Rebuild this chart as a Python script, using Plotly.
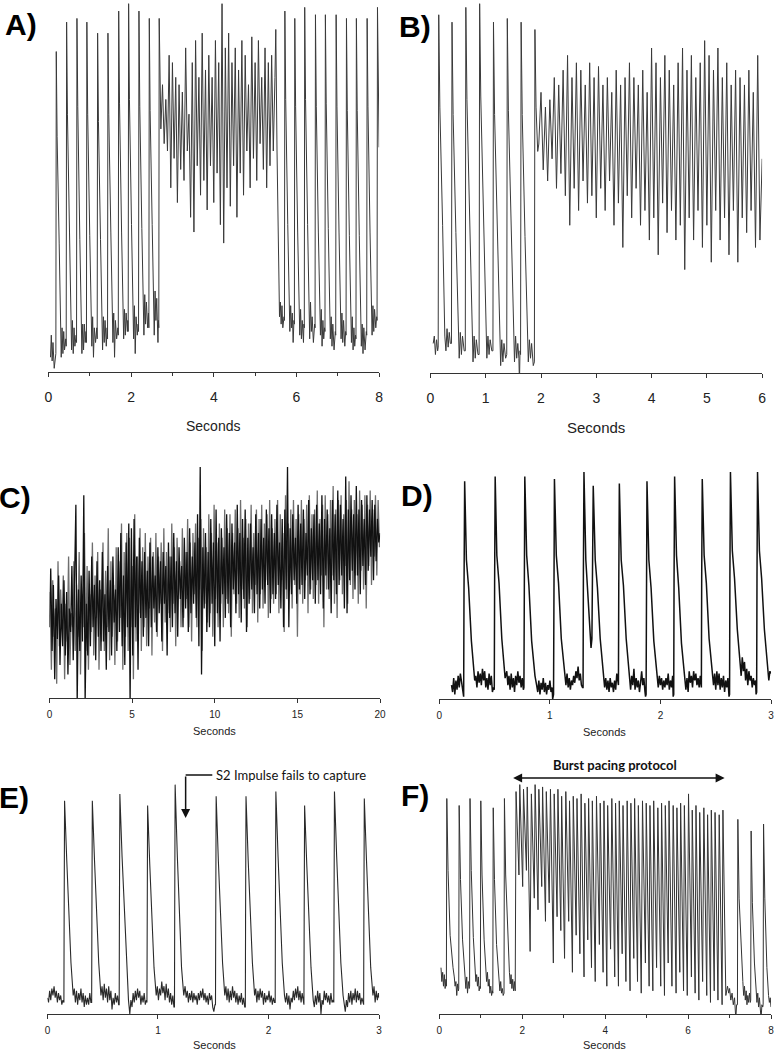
import plotly.graph_objects as go

# === Panel A: paced beats -> fibrillation -> paced beats (0-8 s) ===
a_pre = [
    (0.05, 4), (0.07, 10), (0.09, 3), (0.11, 8), (0.14, 1), (0.17, 4),
    (0.18, 5), (0.19, 87), (0.21, 64), (0.26, 35), (0.29, 9), (0.31, 4), (0.33, 12), (0.35, 5), (0.37, 11), (0.39, 6), (0.42, 9),
    (0.43, 7), (0.44, 95), (0.46, 70), (0.51, 38), (0.54, 13), (0.56, 6), (0.58, 14), (0.60, 5), (0.62, 12), (0.64, 7), (0.67, 10),
    (0.68, 8), (0.69, 96), (0.71, 72), (0.76, 36), (0.79, 12), (0.81, 5), (0.83, 13), (0.85, 6), (0.87, 13), (0.89, 8), (0.91, 11),
    (0.92, 8), (0.93, 95), (0.95, 70), (1.00, 37), (1.03, 14), (1.05, 7), (1.07, 15), (1.09, 4), (1.11, 12), (1.14, 8), (1.17, 12),
    (1.18, 9), (1.19, 92), (1.21, 68), (1.26, 36), (1.29, 13), (1.31, 6), (1.33, 15), (1.35, 8), (1.37, 14), (1.40, 7), (1.42, 12),
    (1.43, 9), (1.44, 92), (1.46, 70), (1.51, 38), (1.54, 15), (1.56, 8), (1.58, 16), (1.60, 4), (1.62, 14), (1.65, 9), (1.68, 12),
    (1.69, 10), (1.70, 98), (1.72, 73), (1.77, 38), (1.80, 16), (1.82, 9), (1.84, 17), (1.86, 10), (1.88, 16), (1.91, 11), (1.92, 14),
    (1.93, 11), (1.94, 100), (1.96, 74), (2.01, 40), (2.04, 16), (2.06, 9), (2.08, 18), (2.10, 5), (2.12, 15), (2.15, 10), (2.17, 13),
    (2.18, 11), (2.19, 98), (2.21, 72), (2.26, 39), (2.29, 17), (2.31, 10), (2.33, 21), (2.35, 13), (2.37, 19), (2.40, 12), (2.42, 16),
    (2.43, 12), (2.44, 96), (2.46, 71), (2.51, 40), (2.54, 18), (2.56, 10), (2.58, 22), (2.60, 14), (2.62, 20), (2.65, 8), (2.66, 14),
    (2.67, 12), (2.68, 96), (2.70, 72),
]
a_fib_start = 2.72
a_fib_step = 0.04
a_fib = [66, 78, 62, 74, 60, 86, 50, 84, 58, 80, 46, 78, 55, 76, 52, 88, 60, 70, 42, 84,
         38, 90, 56, 80, 48, 92, 52, 82, 44, 86, 56, 80, 46, 90, 54, 84, 40, 100, 35, 88,
         50, 92, 45, 84, 56, 88, 42, 82, 54, 90, 48, 86, 60, 78, 50, 91, 58, 84, 52, 90,
         62, 80, 55, 88, 50, 84, 56, 86, 60, 80]
a_post = [
    (5.50, 93), (5.53, 60), (5.57, 20), (5.59, 15), (5.61, 19), (5.63, 13), (5.65, 18), (5.67, 12), (5.70, 15),
    (5.71, 14), (5.72, 98), (5.74, 74), (5.79, 40), (5.82, 17), (5.84, 11), (5.86, 18), (5.88, 12), (5.90, 16), (5.92, 8), (5.94, 14),
    (5.95, 13), (5.96, 96), (5.98, 72), (6.03, 38), (6.06, 16), (6.08, 10), (6.10, 17), (6.12, 9), (6.14, 14), (6.17, 8), (6.18, 13),
    (6.19, 12), (6.20, 99), (6.22, 74), (6.27, 40), (6.30, 16), (6.32, 9), (6.34, 19), (6.36, 11), (6.38, 15), (6.41, 8), (6.44, 13),
    (6.45, 12), (6.46, 97), (6.48, 72), (6.53, 38), (6.56, 15), (6.58, 10), (6.60, 17), (6.62, 7), (6.64, 14), (6.66, 9), (6.68, 12),
    (6.69, 11), (6.70, 97), (6.72, 73), (6.77, 39), (6.80, 16), (6.82, 9), (6.84, 15), (6.86, 7), (6.88, 13), (6.91, 6), (6.94, 11),
    (6.95, 10), (6.96, 97), (6.98, 72), (7.03, 38), (7.06, 15), (7.08, 9), (7.10, 16), (7.12, 8), (7.14, 14), (7.17, 7), (7.19, 11),
    (7.20, 10), (7.21, 96), (7.23, 71), (7.28, 37), (7.31, 14), (7.33, 8), (7.35, 15), (7.37, 6), (7.39, 12), (7.41, 7), (7.43, 10),
    (7.44, 9), (7.45, 96), (7.47, 71), (7.52, 37), (7.55, 14), (7.57, 7), (7.59, 13), (7.61, 5), (7.63, 12), (7.66, 6), (7.69, 11),
    (7.70, 10), (7.71, 96), (7.73, 72), (7.78, 38), (7.81, 16), (7.83, 10), (7.85, 18), (7.87, 11), (7.89, 17), (7.92, 12), (7.94, 15),
    (7.95, 14), (7.96, 99), (7.98, 75), (8.00, 61),
]

# === Panel B: paced beats -> sustained fibrillation (0-6 s) ===
b_pre = [
    (0.05, 8), (0.07, 10), (0.09, 5), (0.11, 9), (0.13, 6),
    (0.14, 7), (0.15, 97), (0.17, 72), (0.22, 40), (0.26, 10), (0.28, 6), (0.30, 12), (0.32, 7), (0.34, 11), (0.36, 8),
    (0.38, 8), (0.39, 95), (0.41, 70), (0.46, 38), (0.50, 9), (0.52, 4), (0.54, 11), (0.56, 5), (0.58, 10), (0.61, 6),
    (0.63, 6), (0.64, 99), (0.66, 74), (0.71, 40), (0.75, 8), (0.77, 3), (0.79, 10), (0.81, 4), (0.83, 9), (0.86, 5),
    (0.88, 5), (0.89, 100), (0.91, 75), (0.96, 40), (1.00, 9), (1.02, 4), (1.04, 10), (1.06, 5), (1.08, 9), (1.11, 6),
    (1.13, 6), (1.14, 95), (1.16, 70), (1.21, 38), (1.25, 8), (1.27, 2), (1.29, 9), (1.31, 3), (1.33, 8), (1.36, 4),
    (1.38, 5), (1.39, 96), (1.41, 71), (1.46, 38), (1.50, 9), (1.52, 3), (1.54, 10), (1.56, 4), (1.58, 8), (1.60, 4), (1.61, -3), (1.62, 6),
    (1.63, 5), (1.64, 95), (1.66, 70), (1.71, 37), (1.75, 8), (1.77, 3), (1.79, 9), (1.81, 4), (1.83, 8), (1.86, 2),
    (1.88, 3), (1.89, 93), (1.91, 72), (1.94, 60),
]
b_fib_start = 1.96
b_fib_step = 0.04
b_fib = [62, 76, 55, 72, 52, 74, 58, 80, 50, 78, 54, 82, 48, 86, 40, 80, 50, 84, 44, 82,
         52, 78, 46, 84, 48, 80, 42, 83, 50, 78, 44, 80, 52, 76, 40, 82, 46, 78, 34, 80,
         48, 84, 42, 80, 50, 78, 40, 82, 44, 76, 36, 88, 42, 84, 32, 80, 46, 86, 38, 82,
         44, 78, 36, 84, 40, 88, 28, 82, 42, 86, 36, 80, 44, 84, 34, 90, 40, 86, 30, 82,
         44, 88, 36, 80, 42, 84, 32, 78, 44, 82, 30, 80, 42, 78, 38, 82, 44, 76, 34, 86,
         36, 58]

# === Panel C: fibrillation over 20 s (two overlapping recordings: dark and grey) ===
c_step = 0.08
c_vals = [30, 55, 20, 48, 8, 42, 25, 52, 14, 40,
          22, 50, 18, 45, 10, 38, 28, 56, 16, 44,
          82, -2, 46, 20, 52, 24, 86, -2, 40, 18,
          54, 22, 60, 30, 48, 16, 58, 26, 50, 20,
          62, 24, 44, 12, 56, 28, 50, 18, 60, 32,
          46, 20, 64, 28, 70, 22, 52, 14, 66, 30,
          74, -2, 72, 18, 76, 30, 60, 12, 68, 34,
          58, 26, 62, 34, 54, 22, 66, 30, 60, 38,
          52, 28, 64, 36, 58, 24, 62, 40, 56, 18,
          66, 34, 60, 30, 70, 36, 58, 26, 64, 42,
          56, 30, 68, 38, 62, 28, 72, 36, 60, 40,
          66, 34, 78, 22, 98, 10, 64, 38, 70, 28,
          62, 30, 76, 40, 66, 22, 80, 36, 68, 24,
          72, 44, 64, 34, 78, 40, 70, 30, 74, 46,
          66, 36, 82, 44, 70, 32, 76, 42, 80, 28,
          68, 40, 74, 46, 64, 36, 78, 44, 70, 38,
          76, 46, 68, 40, 80, 48, 72, 36, 78, 44,
          70, 42, 82, 48, 66, 38, 76, 30, 80, 46,
          98, 30, 72, 44, 78, 50, 68, 40, 82, 46,
          74, 48, 80, 42, 70, 52, 84, 44, 72, 50,
          78, 40, 82, 50, 74, 44, 86, 38, 76, 52,
          80, 46, 72, 36, 84, 50, 78, 44, 88, 48,
          82, 52, 76, 38, 94, 36, 80, 50, 86, 54,
          78, 46, 90, 52, 80, 44, 84, 56, 76, 48,
          86, 54, 80, 60, 84, 50, 82, 58, 76, 66, 70]
c_grey_start = 0.04
c_grey = [45, 12, 50, 26, 38, 6, 58, 22, 46, 30,
          52, 8, 40, 24, 60, 14, 36, 30, 58, 20,
          48, 26, 62, 10, 44, 30, 70, 20, 56, 12,
          44, 28, 66, 18, 52, 34, 62, 12, 46, 24,
          66, 20, 54, 30, 72, 16, 58, 26, 48, 14,
          64, 24, 58, 34, 74, 12, 62, 26, 70, 20,
          68, 30, 56, 8, 78, 24, 60, 36, 72, 20,
          64, 30, 70, 22, 60, 38, 68, 18, 62, 32,
          70, 26, 60, 40, 66, 20, 72, 32, 62, 36,
          60, 28, 74, 40, 64, 22, 68, 44, 58, 30,
          72, 34, 62, 42, 76, 30, 66, 24, 70, 44,
          74, 30, 68, 46, 76, 20, 72, 40, 64, 32,
          78, 36, 70, 26, 82, 42, 66, 30, 74, 40,
          68, 30, 80, 42, 72, 36, 78, 26, 70, 44,
          80, 40, 72, 34, 84, 46, 68, 38, 76, 30,
          74, 42, 82, 36, 70, 48, 80, 32, 76, 44,
          82, 38, 74, 50, 78, 34, 84, 42, 72, 40,
          76, 44, 84, 36, 78, 50, 70, 28, 86, 42,
          74, 46, 80, 38, 84, 48, 76, 26, 78, 44,
          84, 40, 76, 50, 82, 36, 86, 46, 78, 42,
          80, 48, 88, 40, 76, 52, 82, 30, 86, 46,
          78, 42, 84, 52, 90, 40, 80, 34, 84, 50,
          86, 44, 78, 56, 84, 40, 92, 48, 80, 42,
          84, 52, 78, 40, 88, 54, 82, 46, 86, 38,
          82, 56, 88, 48, 80, 60, 86, 52, 84, 64]

# === Panel D: paced beats with an early extra beat (0-3 s) ===
d_pts = [
    (0.11, 6), (0.12, 3), (0.13, 9), (0.14, 2), (0.15, 8), (0.16, 4), (0.17, 10), (0.18, 5), (0.19, 11), (0.20, 7), (0.21, 3),
    (0.22, 1), (0.223, 45), (0.229, 94), (0.245, 60), (0.265, 48), (0.29, 25), (0.32, 8), (0.33, 10), (0.34, 5), (0.35, 12), (0.36, 7),
    (0.37, 11), (0.38, 6), (0.39, 13), (0.40, 8), (0.41, 12), (0.42, 5), (0.43, 9), (0.44, 4), (0.45, 11), (0.46, 6), (0.47, 10), (0.48, 3), (0.49, 5),
    (0.497, 4), (0.50, 50), (0.505, 96), (0.52, 62), (0.54, 50), (0.565, 26), (0.595, 9), (0.61, 12), (0.62, 6), (0.63, 10), (0.64, 4),
    (0.65, 11), (0.66, 5), (0.67, 9), (0.68, 3), (0.69, 10), (0.70, 6), (0.71, 12), (0.72, 7), (0.73, 10), (0.74, 5), (0.75, 9), (0.76, 4),
    (0.765, 5), (0.768, 50), (0.773, 96), (0.79, 62), (0.81, 49), (0.835, 25), (0.865, 10), (0.88, 6), (0.89, 3), (0.90, 8), (0.91, 2),
    (0.92, 7), (0.93, 4), (0.94, 9), (0.95, 3), (0.96, 7), (0.97, 2), (0.98, 6), (0.99, 4), (1.00, 8), (1.01, 3), (1.02, 5), (1.025, 0),
    (1.033, 2), (1.036, 50), (1.041, 95), (1.058, 62), (1.078, 50), (1.103, 26), (1.133, 10), (1.145, 6), (1.155, 11), (1.165, 5),
    (1.175, 9), (1.185, 4), (1.195, 8), (1.205, 6), (1.215, 10), (1.225, 7), (1.235, 12), (1.245, 9), (1.255, 14), (1.265, 8), (1.275, 11), (1.285, 6), (1.295, 5),
    (1.30, 5), (1.303, 55), (1.308, 98), (1.325, 60), (1.345, 42), (1.36, 30), (1.372, 22),
    (1.38, 26), (1.385, 60), (1.392, 92), (1.41, 60), (1.43, 48), (1.455, 26), (1.485, 10), (1.495, 5), (1.505, 9), (1.515, 4),
    (1.525, 8), (1.535, 3), (1.545, 9), (1.555, 5), (1.565, 7), (1.575, 3), (1.585, 8), (1.595, 4), (1.605, 11), (1.612, 8),
    (1.62, 6), (1.623, 50), (1.628, 93), (1.645, 60), (1.665, 49), (1.69, 26), (1.72, 10), (1.73, 4), (1.74, 10), (1.75, 6), (1.76, 13),
    (1.77, 4), (1.78, 9), (1.79, 5), (1.80, 8), (1.81, 3), (1.82, 7), (1.83, 12), (1.84, 6), (1.85, 9), (1.86, 3), (1.865, 1),
    (1.87, 2), (1.873, 50), (1.878, 94), (1.895, 60), (1.915, 48), (1.94, 25), (1.97, 9), (1.98, 5), (1.99, 10), (2.00, 6), (2.01, 9),
    (2.02, 4), (2.03, 8), (2.04, 5), (2.05, 9), (2.06, 6), (2.07, 11), (2.08, 4), (2.09, 8), (2.10, 5), (2.11, 10), (2.115, 1),
    (2.12, 2), (2.123, 52), (2.128, 96), (2.145, 62), (2.165, 48), (2.19, 24), (2.22, 10), (2.23, 4), (2.24, 9), (2.25, 3), (2.26, 12),
    (2.27, 7), (2.28, 10), (2.29, 5), (2.30, 12), (2.31, 8), (2.32, 11), (2.33, 6), (2.34, 9), (2.35, 5), (2.36, 10), (2.365, 7),
    (2.37, 5), (2.373, 52), (2.378, 95), (2.395, 62), (2.415, 50), (2.44, 26), (2.47, 12), (2.48, 6), (2.49, 11), (2.50, 4), (2.51, 12),
    (2.52, 6), (2.53, 11), (2.54, 4), (2.55, 9), (2.56, 5), (2.57, 10), (2.58, 3), (2.59, 8), (2.60, 5), (2.61, 9), (2.62, 1),
    (2.625, 2), (2.628, 52), (2.633, 98), (2.65, 64), (2.67, 52), (2.695, 30), (2.72, 16), (2.73, 10), (2.74, 18), (2.75, 12), (2.76, 16),
    (2.77, 8), (2.78, 13), (2.79, 6), (2.80, 12), (2.81, 8), (2.82, 10), (2.83, 5), (2.84, 9), (2.85, 6), (2.86, 8), (2.865, 2),
    (2.87, 3), (2.873, 52), (2.878, 98), (2.895, 64), (2.915, 52), (2.94, 30), (2.97, 13), (2.98, 8), (2.99, 12), (3.00, 11),
]

# === Panel E: S1 beats, S2 impulse fails to capture (0-3 s) ===
e_pts = [
    (0.00, 7), (0.01, 5), (0.02, 10), (0.03, 6), (0.04, 11), (0.05, 8), (0.06, 12), (0.07, 7), (0.08, 10), (0.09, 5), (0.10, 9),
    (0.11, 6), (0.12, 8), (0.13, 4), (0.14, 6),
    (0.149, 5), (0.151, 40), (0.155, 92), (0.175, 66), (0.195, 44), (0.213, 22), (0.233, 8), (0.243, 11), (0.253, 5), (0.263, 10),
    (0.273, 4), (0.283, 9), (0.293, 6), (0.303, 11), (0.313, 5), (0.323, 9), (0.333, 3), (0.343, 8), (0.353, 4), (0.363, 7), (0.373, 4), (0.383, 9), (0.393, 5),
    (0.40, 5), (0.402, 40), (0.406, 92), (0.426, 66), (0.446, 44), (0.464, 22), (0.484, 8), (0.494, 12), (0.504, 6), (0.514, 13),
    (0.524, 7), (0.534, 11), (0.544, 5), (0.554, 12), (0.564, 6), (0.574, 10), (0.584, 2), (0.594, 7), (0.604, 4), (0.614, 9), (0.624, 5), (0.634, 8), (0.644, 4),
    (0.649, 4), (0.651, 42), (0.655, 95), (0.675, 68), (0.695, 46), (0.713, 22), (0.733, 6), (0.745, 0), (0.755, 6), (0.765, 3),
    (0.775, 9), (0.785, 5), (0.795, 10), (0.805, 6), (0.815, 11), (0.825, 7), (0.835, 10), (0.845, 4), (0.855, 8), (0.865, 5), (0.875, 9), (0.885, 4), (0.895, 6),
    (0.90, 5), (0.902, 40), (0.906, 90), (0.926, 64), (0.946, 43), (0.964, 20), (0.984, 8), (0.994, 12), (1.004, 6), (1.014, 11),
    (1.024, 8), (1.034, 14), (1.044, 9), (1.054, 12), (1.064, 6), (1.074, 13), (1.084, 7), (1.094, 11), (1.104, 5), (1.114, 9), (1.124, 4), (1.134, 8), (1.144, 3),
    (1.149, 3), (1.151, 42), (1.155, 99), (1.175, 68), (1.195, 44), (1.213, 20), (1.233, 8), (1.245, 12), (1.255, 7), (1.265, 10),
    (1.275, 5), (1.285, 9), (1.295, 6), (1.305, 10), (1.315, 5), (1.325, 9), (1.335, 6), (1.345, 8), (1.355, 4), (1.365, 9), (1.375, 6),
    (1.385, 10), (1.395, 7), (1.405, 11), (1.415, 6), (1.425, 9), (1.435, 5), (1.445, 8), (1.455, 4), (1.465, 9), (1.475, 6), (1.485, 8),
    (1.495, 3), (1.505, 1), (1.515, 4),
    (1.52, 4), (1.522, 40), (1.526, 94), (1.546, 66), (1.566, 44), (1.584, 22), (1.604, 8), (1.614, 12), (1.624, 6), (1.634, 11),
    (1.644, 5), (1.654, 10), (1.664, 6), (1.674, 12), (1.684, 7), (1.694, 10), (1.704, 5), (1.714, 9), (1.724, 4), (1.734, 8), (1.744, 5), (1.754, 9), (1.764, 4), (1.774, 7), (1.784, 3),
    (1.79, 3), (1.792, 40), (1.796, 94), (1.816, 66), (1.836, 44), (1.854, 22), (1.874, 8), (1.884, 11), (1.894, 5), (1.904, 10),
    (1.914, 6), (1.924, 11), (1.934, 7), (1.944, 10), (1.954, 4), (1.964, 9), (1.974, 5), (1.984, 8), (1.994, 6), (2.004, 10), (2.014, 5), (2.024, 8), (2.034, 4), (2.044, 7), (2.054, 5),
    (2.06, 5), (2.062, 42), (2.066, 96), (2.086, 68), (2.106, 45), (2.124, 22), (2.144, 8), (2.154, 5), (2.164, 9), (2.174, 4),
    (2.184, 8), (2.194, 2), (2.204, 7), (2.214, 5), (2.224, 10), (2.234, 6), (2.244, 11), (2.254, 7), (2.264, 12), (2.274, 6), (2.284, 10), (2.294, 5), (2.304, 9), (2.314, 4),
    (2.32, 4), (2.322, 40), (2.326, 90), (2.346, 64), (2.366, 42), (2.384, 20), (2.404, 6), (2.414, 3), (2.424, 8), (2.434, 4),
    (2.444, 10), (2.454, 5), (2.464, 9), (2.474, 0), (2.484, 6), (2.494, 4), (2.504, 10), (2.514, 6), (2.524, 9), (2.534, 5), (2.544, 8), (2.554, 4), (2.564, 9), (2.574, 5), (2.584, 6),
    (2.59, 5), (2.592, 42), (2.596, 96), (2.616, 68), (2.636, 45), (2.654, 22), (2.674, 8), (2.684, 4), (2.694, 1), (2.704, 6),
    (2.714, 3), (2.724, 9), (2.734, 5), (2.744, 10), (2.754, 4), (2.764, 9), (2.774, 6), (2.784, 11), (2.794, 5), (2.804, 10), (2.814, 6), (2.824, 9), (2.834, 4), (2.844, 7), (2.854, 4),
    (2.86, 4), (2.862, 40), (2.866, 93), (2.886, 66), (2.906, 44), (2.924, 20), (2.944, 8), (2.954, 12), (2.964, 5), (2.974, 10),
    (2.984, 6), (2.994, 9), (3.00, 7),
]

# === Panel F: paced beats, burst pacing, paced beats (0-8 s) ===
f_pre = [
    (0.04, 20), (0.06, 14), (0.08, 18), (0.10, 12), (0.12, 17), (0.14, 11), (0.16, 15),
    (0.17, 12), (0.18, 93), (0.21, 62), (0.26, 34), (0.30, 24), (0.33, 20), (0.36, 16), (0.38, 12), (0.40, 14), (0.42, 8), (0.44, 13), (0.46, 10),
    (0.468, 11), (0.478, 90), (0.51, 58), (0.56, 32), (0.60, 20), (0.62, 15), (0.64, 11), (0.66, 16), (0.68, 9), (0.70, 14), (0.72, 11),
    (0.73, 12), (0.74, 93), (0.77, 62), (0.82, 33), (0.86, 20), (0.88, 14), (0.90, 17), (0.92, 12), (0.94, 16), (0.96, 10), (0.98, 12),
    (0.99, 11), (1.00, 92), (1.03, 60), (1.08, 32), (1.12, 20), (1.14, 14), (1.16, 18), (1.18, 12), (1.20, 15), (1.22, 9), (1.24, 12), (1.26, 8), (1.28, 10),
    (1.29, 9), (1.30, 89), (1.33, 58), (1.38, 30), (1.42, 18), (1.44, 13), (1.46, 10), (1.48, 14), (1.50, 9), (1.52, 11), (1.54, 8),
    (1.56, 9), (1.57, 93), (1.60, 60), (1.65, 32), (1.69, 18), (1.71, 13), (1.73, 17), (1.75, 11), (1.77, 15), (1.79, 10), (1.81, 14), (1.83, 10),
]
f_burst_peak_t = [1.85, 1.94, 2.03, 2.12, 2.22, 2.31, 2.40, 2.49, 2.58, 2.68, 2.77, 2.86, 2.95, 3.05, 3.14, 3.23, 3.32, 3.42, 3.51,
                  3.60, 3.69, 3.79, 3.88, 3.97, 4.06, 4.16, 4.25, 4.34, 4.43, 4.53, 4.62, 4.71, 4.80, 4.90, 4.99, 5.08, 5.17,
                  5.27, 5.36, 5.45, 5.54, 5.64, 5.73, 5.82, 5.91, 6.01, 6.10, 6.19, 6.28, 6.38, 6.47, 6.56, 6.65, 6.75, 6.84]
f_burst_peak = [96, 99, 97, 98, 95, 99, 97, 98, 96, 97, 95, 97, 94, 96, 92, 94, 93, 95, 91, 93, 92, 94, 91, 92, 90, 93, 91, 92,
                90, 92, 91, 93, 90, 92, 91, 90, 92, 89, 91, 90, 92, 90, 89, 91, 90, 95, 88, 90, 87, 89, 86, 88, 87, 86, 88]
f_burst_trough_t = [1.92, 2.01, 2.10, 2.19, 2.29, 2.38, 2.47, 2.56, 2.65, 2.75, 2.84, 2.93, 3.02, 3.12, 3.21, 3.30, 3.39, 3.49,
                    3.58, 3.67, 3.76, 3.86, 3.95, 4.04, 4.13, 4.23, 4.32, 4.41, 4.50, 4.60, 4.69, 4.78, 4.87, 4.97, 5.06, 5.15,
                    5.24, 5.34, 5.43, 5.52, 5.61, 5.71, 5.80, 5.89, 5.98, 6.08, 6.17, 6.26, 6.35, 6.45, 6.54, 6.63, 6.72, 6.82, 6.91]
f_burst_trough = [60, 55, 62, 27, 50, 45, 55, 40, 48, 22, 42, 36, 24, 40, 18, 34, 26, 16, 32, 20, 14, 30, 18, 12, 28, 16, 12,
                  26, 14, 10, 24, 14, 9, 22, 12, 10, 20, 12, 8, 22, 12, 9, 18, 10, 8, 16, 9, 6, 14, 8, 5, 10, 6, 4, 8]
f_post = [
    (6.95, 12), (6.98, 9), (7.00, 11), (7.03, 6), (7.06, 9), (7.09, 4), (7.12, 7), (7.15, -2), (7.17, 4),
    (7.19, 4), (7.20, 84), (7.23, 50), (7.28, 25), (7.32, 14), (7.34, 8), (7.36, 12), (7.38, 6), (7.40, 10), (7.42, 4), (7.44, 8), (7.46, 5), (7.48, 9), (7.50, 5),
    (7.51, 6), (7.52, 79), (7.55, 48), (7.60, 22), (7.64, 10), (7.66, 5), (7.68, 9), (7.70, 3), (7.72, 7), (7.74, 2), (7.76, -2), (7.78, 4), (7.80, 3),
    (7.81, 4), (7.82, 82), (7.85, 50), (7.90, 20), (7.94, 8), (7.96, 5), (7.98, 7), (8.00, 3),
]


def unzip(points):
    return [p[0] for p in points], [p[1] for p in points]


def clocked(start, step, values):
    return [round(start + i * step, 4) for i in range(len(values))], list(values)


# assemble each panel's trace
t1, v1 = unzip(a_pre)
t2, v2 = clocked(a_fib_start, a_fib_step, a_fib)
t3, v3 = unzip(a_post)
a_t, a_v = t1 + t2 + t3, v1 + v2 + v3

t1, v1 = unzip(b_pre)
t2, v2 = clocked(b_fib_start, b_fib_step, b_fib)
b_t, b_v = t1 + t2, v1 + v2

c_t, c_v = clocked(0.0, c_step, c_vals)
cg_t, cg_v = clocked(c_grey_start, c_step, c_grey)
d_t, d_v = unzip(d_pts)
e_t, e_v = unzip(e_pts)

t1, v1 = unzip(f_pre)
bt, bv = [], []
for pt, pv, tt, tv in zip(f_burst_peak_t, f_burst_peak, f_burst_trough_t, f_burst_trough):
    bt += [pt, tt]
    bv += [pv, tv]
t3, v3 = unzip(f_post)
f_t, f_v = t1 + bt + t3, v1 + bv + v3

W, H = 779, 1050


def px(x):
    return x / W


def py(y):
    return 1 - y / H


# panel geometry in screen pixels: time axis ends, (axis line y, top y)
panels = {
    'A': dict(x=(45, 380), y=(372, 0), rng=8, dtick=2, minor=1),
    'B': dict(x=(432, 768), y=(373, 0), rng=6, dtick=1, minor=None),
    'C': dict(x=(46, 381), y=(698, 460), rng=20, dtick=5, minor=None),
    'D': dict(x=(441, 777), y=(699, 465), rng=3, dtick=1, minor=None),
    'E': dict(x=(44, 380), y=(1014, 780), rng=3, dtick=1, minor=None),
    'F': dict(x=(441, 777), y=(1014, 780), rng=8, dtick=2, minor=1),
}
# each panel: list of (t, v, colour, width)
series = {
    'A': [(a_t, a_v, '#3a3a3a', 1.0)],
    'B': [(b_t, b_v, '#3a3a3a', 1.0)],
    'C': [(cg_t, cg_v, '#6e6e6e', 1.3), (c_t, c_v, '#111111', 1.3)],
    'D': [(d_t, d_v, '#111111', 1.5)],
    'E': [(e_t, e_v, '#2a2a2a', 1.1)],
    'F': [(f_t, f_v, '#333333', 1.0)],
}

fig = go.Figure()
layout = {}
for i, key in enumerate(['A', 'B', 'C', 'D', 'E', 'F'], start=1):
    p = panels[key]
    sfx = '' if i == 1 else str(i)
    for t, v, col, lw in series[key]:
        fig.add_trace(go.Scatter(x=t, y=v, mode='lines', line=dict(color=col, width=lw),
                                 xaxis='x' + sfx, yaxis='y' + sfx, showlegend=False, hoverinfo='skip'))
    big = key in ('A', 'B')
    xa = dict(domain=[px(p['x'][0]), px(p['x'][1])], range=[0, p['rng']], anchor='y' + sfx,
              showline=True, linecolor='#333', linewidth=1.2, showgrid=False, zeroline=False,
              ticks='outside', ticklen=4, tickcolor='#333', tick0=0, dtick=p['dtick'],
              ticklabelstandoff=8 if big else 3,
              tickfont=dict(family='Liberation Sans Narrow, Liberation Sans, Arial', size=14 if big else 10, color='#222'))
    if p['minor']:
        xa['minor'] = dict(dtick=p['minor'], ticks='outside', ticklen=3, tickcolor='#333')
    ya = dict(domain=[py(p['y'][0]), py(p['y'][1])], range=[0, 101], anchor='x' + sfx,
              visible=False, showgrid=False, zeroline=False)
    layout['xaxis' + sfx] = xa
    layout['yaxis' + sfx] = ya

fig.update_layout(**layout)

annotations = []
# panel letters
letters = [('A)', -1, 24), ('B)', 398, 27), ('C)', -7, 497), ('D)', 400, 495), ('E)', -7, 797), ('F)', 400, 795)]
for txt, x, y in letters:
    annotations.append(dict(text='<b>%s</b>' % txt, x=px(x), y=py(y), xref='paper', yref='paper',
                            xanchor='left', yanchor='middle', showarrow=False,
                            font=dict(family='Liberation Sans, Arial', size=30, color='#000')))
# axis titles
titles = [(212, 426, 14), (600, 428, 15), (213, 731, 11), (608, 732, 11), (213, 1045, 11), (608, 1045, 11)]
for x, y, s in titles:
    annotations.append(dict(text='Seconds', x=px(x), y=py(y), xref='paper', yref='paper',
                            xanchor='center', yanchor='middle', showarrow=False,
                            font=dict(family='Liberation Sans Narrow, Liberation Sans, Arial', size=s, color='#222')))

# E: S2 impulse note with bent arrow
annotations.append(dict(text='S2 Impulse fails to capture', x=px(213), y=py(775), xref='paper', yref='paper',
                        xanchor='left', yanchor='middle', showarrow=False,
                        font=dict(family='Lato, Liberation Sans', size=13, color='#111')))
annotations.append(dict(text='', x=px(184), y=py(818), xref='paper', yref='paper', ax=0, ay=-43,
                        showarrow=True, arrowhead=2, arrowsize=1.2, arrowwidth=1.5, arrowcolor='#111'))
# F: burst pacing protocol with double arrow
annotations.append(dict(text='<b>Burst pacing protocol</b>', x=px(619), y=py(765), xref='paper', yref='paper',
                        xanchor='center', yanchor='middle', showarrow=False,
                        font=dict(family='Lato, Liberation Sans', size=13, color='#111')))
annotations.append(dict(text='', x=px(730), y=py(778), xref='paper', yref='paper', ax=-213, ay=0,
                        showarrow=True, arrowhead=2, startarrowhead=2, arrowside='end+start',
                        arrowsize=1.2, arrowwidth=1.5, arrowcolor='#111'))

fig.update_layout(
    annotations=annotations,
    shapes=[dict(type='line', xref='paper', yref='paper', x0=px(184), y0=py(775), x1=px(211), y1=py(775),
                 line=dict(color='#111', width=1.5))],
    width=W, height=H, margin=dict(l=0, r=0, t=0, b=0),
    paper_bgcolor='white', plot_bgcolor='white',
)

# the page's default body margin would shift the whole figure by 8 px
fig.write_html("out.html", config={'displayModeBar': False},
               post_script="document.body.style.margin='0';document.body.style.overflow='hidden';")
